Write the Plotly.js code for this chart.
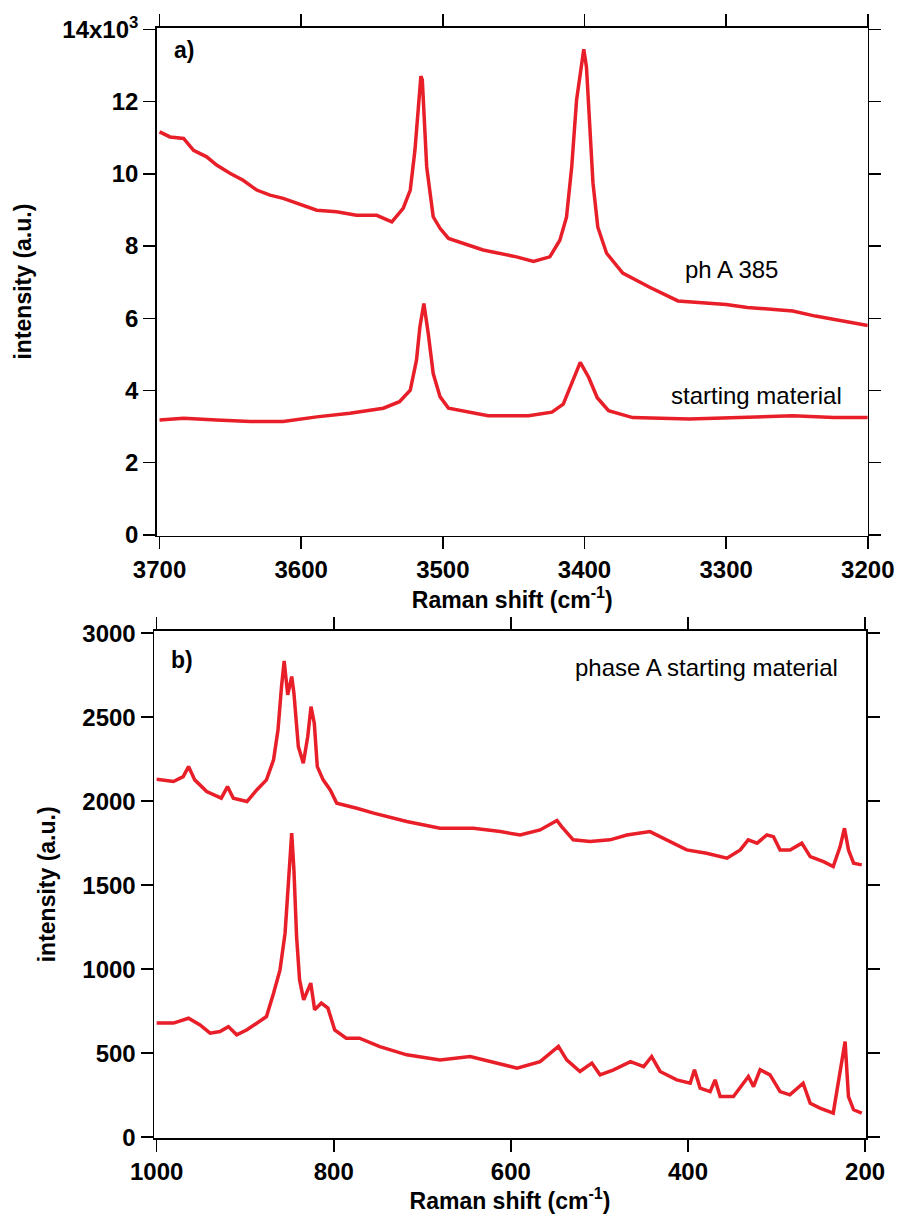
<!DOCTYPE html>
<html>
<head>
<meta charset="utf-8">
<script src="https://cdn.plot.ly/plotly-3.0.1.min.js"></script>
<style>html,body{margin:0;padding:0;background:#fff}#chart{width:898px;height:1214px}</style>
</head>
<body>
<div id="chart"></div>
<script>
// Panel a: high-frequency region (Raman shift, cm-1) and intensities
var shiftA_phA = [3700,3692.6,3683,3676,3666.7,3659.7,3650,3641,3631.4,3622,3612.7,3603,3589,3575,3561,3546.7,3536,3528,3523,3519.7,3517.4,3515.5,3514.5,3511.4,3506.8,3502,3496,3471.6,3448,3436,3424.5,3417.4,3412.7,3409,3405.6,3402,3400.5,3398.6,3396,3394,3390.6,3384.4,3373,3354,3334,3300,3285,3253,3237,3220,3200];
var intA_phA   = [11160,11020,10980,10650,10470,10240,10010,9820,9550,9410,9320,9180,8990,8950,8850,8850,8670,9040,9550,10650,11760,12700,12600,10190,8810,8490,8210,7890,7700,7570,7700,8160,8800,10200,12040,13140,13450,12950,11120,9740,8520,7800,7250,6860,6480,6380,6300,6200,6060,5930,5800];

var shiftA_start = [3700,3683,3659.7,3636,3612.7,3589,3565.6,3542,3530.6,3523,3518.6,3516.2,3513.4,3510.3,3506.8,3502,3496,3468,3439.5,3423,3415,3409,3403,3397,3391,3383,3366,3326,3285,3253,3224,3200];
var intA_start   = [3180,3230,3180,3140,3140,3270,3370,3510,3690,4010,4840,5760,6410,5580,4470,3830,3510,3300,3300,3400,3620,4170,4780,4360,3800,3440,3250,3210,3250,3300,3250,3250];

// Panel b: low-frequency region
var shiftB_phA = [1000,981,970,964,957,943.5,927,920,913.4,898,887,876,868,863,859,856,852,847.5,845,840,834.4,829.4,825.7,822,818.6,812,804,796.6,774,755,717.6,680,642.4,612,589.6,567,548,542.7,529.6,510.6,488,469,443,424,401.5,379,356,341,332,322,311,303.5,296,284.7,271.5,262,247,236,228.2,223.3,218.8,213,203.8];
var intB_phA   = [2131,2117,2146,2206,2127,2057,2018,2087,2018,1998,2067,2127,2246,2424,2682,2835,2633,2742,2643,2325,2226,2385,2563,2464,2206,2127,2067,1988,1958,1929,1879,1839,1839,1819,1799,1829,1885,1849,1770,1760,1770,1799,1819,1770,1710,1690,1661,1710,1770,1750,1799,1789,1710,1710,1750,1670,1640,1611,1730,1839,1710,1631,1621];

var shiftB_start = [1000,981,964,951,939.7,928.5,919,909.6,898,887,876,868,860.7,855,851,847.5,845,842,838.6,834,826,821.6,814,806.6,799,786,771,748,717.6,680,646,623.5,593,567,546.3,537,522,508.6,499.3,484,465,450,441,431.5,412.7,397.5,392.7,386.3,375,369.4,363.7,348.7,331.8,326,318.6,307.4,296,285,270,262,251,236,228.2,222.6,218.8,213,203.8];
var intB_start   = [679,679,708,668,619,629,658,609,639,679,718,857,996,1214,1532,1810,1591,1194,936,817,917,758,798,768,639,589,589,539,490,460,480,450,411,450,540,460,391,441,371,401,450,420,480,391,341,321,401,292,271,341,242,242,361,301,401,371,271,252,321,202,173,143,391,569,242,163,143];

var tickValsA = [0,2000,4000,6000,8000,10000,12000,14000];
var tickTextA = ['0','2','4','6','8','10','12','14x10<sup>3</sup>'];
var tickValsXA = [3700,3600,3500,3400,3300,3200];
var tickValsB = [0,500,1000,1500,2000,2500,3000];
var tickValsXB = [1000,800,600,400,200];

var red = 'rgb(232,30,40)';
var FAM = 'Liberation Sans, Arial, sans-serif';
var tickFont = {family:FAM, size:24, color:'#000', weight:700};
var titleFont = {family:FAM, size:23, color:'#000', weight:700};
var W = 898, H = 1214;
function px(x){return x/W;}
function py(y){return 1 - y/H;}

var traces = [
  {x:shiftA_phA, y:intA_phA, xaxis:'x', yaxis:'y', mode:'lines', line:{color:red, width:3.5}, hoverinfo:'skip'},
  {x:shiftA_start, y:intA_start, xaxis:'x', yaxis:'y', mode:'lines', line:{color:red, width:3.5}, hoverinfo:'skip'},
  {x:shiftB_phA, y:intB_phA, xaxis:'x2', yaxis:'y2', mode:'lines', line:{color:red, width:3.5}, hoverinfo:'skip'},
  {x:shiftB_start, y:intB_start, xaxis:'x2', yaxis:'y2', mode:'lines', line:{color:red, width:3.5}, hoverinfo:'skip'}
];

var axBase = {showline:true, linecolor:'#000', linewidth:1.5, ticks:'outside', ticklen:12, tickwidth:1.5, tickcolor:'#000', mirror:'allticks', showgrid:false, zeroline:false, tickfont:tickFont};

function ann(x, y, text, size, bold){
  return {xref:'paper', yref:'paper', x:px(x), y:py(y), xanchor:'center', yanchor:'middle', text:text, showarrow:false,
          font:{family:FAM, size:size, color:'#000', weight:bold?700:400}};
}

var layout = {
  width:W, height:H, showlegend:false,
  paper_bgcolor:'#fff', plot_bgcolor:'#fff',
  margin:{l:0, r:0, t:0, b:0},
  xaxis: Object.assign({}, axBase, {domain:[px(156.7), px(867.8)], range:[3702,3200], tickvals:tickValsXA, anchor:'y',
      title:{text:'Raman shift (cm<sup>-1</sup>)', font:titleFont, standoff:2}}),
  yaxis: Object.assign({}, axBase, {domain:[py(535.7), py(27.5)], range:[-20,14050], tickvals:tickValsA, ticktext:tickTextA, anchor:'x',
      title:{text:'intensity (a.u.)', font:titleFont, standoff:24}}),
  xaxis2: Object.assign({}, axBase, {domain:[px(154), px(866)], range:[1003,199], tickvals:tickValsXB, anchor:'y2',
      title:{text:'Raman shift (cm<sup>-1</sup>)', font:titleFont, standoff:2}}),
  yaxis2: Object.assign({}, axBase, {domain:[py(1138), py(630.7)], range:[-5,3015], tickvals:tickValsB, anchor:'x2',
      title:{text:'intensity (a.u.)', font:titleFont, standoff:20}}),
  annotations: [
    ann(184, 50, 'a)', 23, true),
    ann(182, 660, 'b)', 23, true),
    ann(731, 270, 'ph A 385', 24, false),
    ann(756, 396, 'starting material', 24, false),
    ann(706, 667, 'phase A starting material', 24, false)
  ]
};

Plotly.newPlot('chart', traces, layout, {staticPlot:true, displayModeBar:false});
</script>
</body>
</html>
